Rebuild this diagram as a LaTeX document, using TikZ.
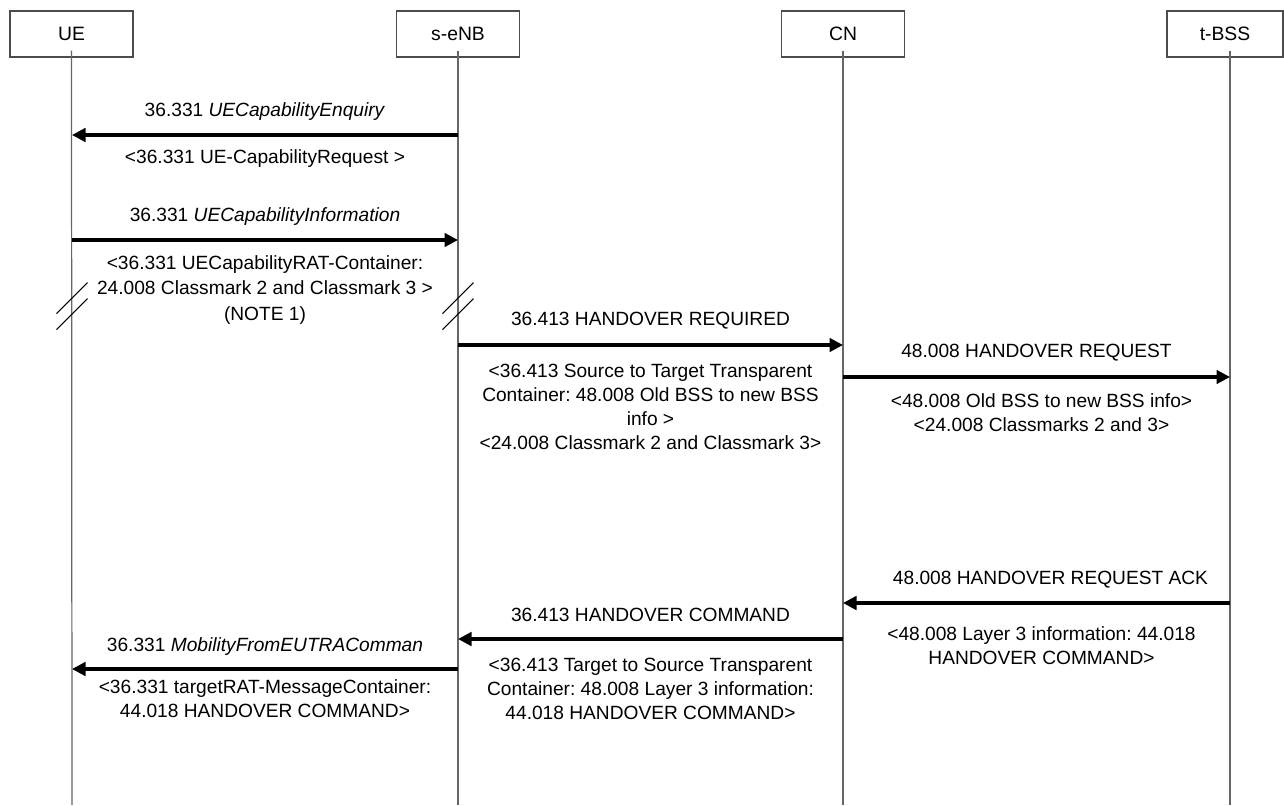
\documentclass[tikz,border=0pt]{standalone}
\usepackage{fontspec}
\setmainfont{Liberation Sans}
\frenchspacing
\usetikzlibrary{arrows.meta, positioning, calc}
\tikzset{
  entity/.style={rectangle, draw=black!70, fill=white, line width=0.6pt,
    minimum width=2.46cm, minimum height=0.92cm,
    font=\fontsize{11}{13}\selectfont},
  lifeline/.style={draw=black!60, line width=0.7pt, shorten <=-0.14cm},
  msg/.style={-{Triangle[length=0.27cm, width=0.27cm]}, line width=1.8pt},
  lbl/.style={align=center, inner sep=0pt,
    font=\fontsize{10.9}{13.6}\selectfont},
  brk/.style={line width=0.6pt},
}

\begin{document}
\begin{tikzpicture}
  \useasboundingbox (0,0) rectangle (25.68,-16.1);

  % Entities
  \node[entity] (ue)   at (1.43,-0.68)  {UE};
  \node[entity] (senb) at (9.16,-0.68)  {s-eNB};
  \node[entity] (cn)   at (16.86,-0.68) {CN};
  \node[entity, minimum width=2.32cm] (tbss) at (24.50,-0.68) {t-BSS};

  % Lifelines
  \coordinate (ue-end)   at (1.44,-16.1);
  \coordinate (senb-end) at (9.16,-16.1);
  \coordinate (cn-end)   at (16.86,-16.1);
  \coordinate (tbss-end) at (24.60,-16.1);
  \draw[lifeline] (ue.south) -- (ue-end);
  \draw[lifeline] (senb.south) -- (senb-end);
  \draw[lifeline] (cn.south) -- (cn-end);
  \draw[lifeline] (tbss.south -| tbss-end) -- (tbss-end);

  % Message end points
  \coordinate (enq-s)  at (senb-end |- 0,-2.70);
  \coordinate (enq-t)  at (ue-end |- 0,-2.70);
  \coordinate (info-s) at (ue-end |- 0,-4.80);
  \coordinate (info-t) at (senb-end |- 0,-4.80);
  \coordinate (hreq-s) at (senb-end |- 0,-6.90);
  \coordinate (hreq-t) at (cn-end |- 0,-6.90);
  \coordinate (hrq-s)  at (cn-end |- 0,-7.54);
  \coordinate (hrq-t)  at (tbss-end |- 0,-7.54);
  \coordinate (ack-s)  at (tbss-end |- 0,-12.06);
  \coordinate (ack-t)  at (cn-end |- 0,-12.06);
  \coordinate (hcmd-s) at (cn-end |- 0,-12.78);
  \coordinate (hcmd-t) at (senb-end |- 0,-12.78);
  \coordinate (mob-s)  at (senb-end |- 0,-13.38);
  \coordinate (mob-t)  at (ue-end |- 0,-13.38);

  % Messages
  \draw[msg] (enq-s) -- (enq-t)
    node[lbl, midway, yshift=0.46cm] (enq-top) {36.331 \textit{UECapabilityEnquiry}}
    node[lbl, midway, yshift=-0.48cm] (enq-bot) {<36.331 UE-CapabilityRequest >};
  \draw[msg] (info-s) -- (info-t)
    node[lbl, midway, yshift=0.46cm] (info-top) {36.331 \textit{UECapabilityInformation}}
    node[lbl, midway, yshift=-1.00cm] (info-bot)
      {<36.331 UECapabilityRAT-Container:\\[1pt]24.008 Classmark 2 and Classmark 3 >\\[1pt](NOTE 1)};
  \draw[msg] (hreq-s) -- (hreq-t)
    node[lbl, midway, yshift=0.48cm] (hreq-top) {36.413 HANDOVER REQUIRED}
    node[lbl, midway, yshift=-1.24cm] (hreq-bot)
      {<36.413 Source to Target Transparent\\Container: 48.008 Old BSS to new BSS\\info >\\<24.008 Classmark 2 and Classmark 3>};
  \draw[msg] (hrq-s) -- (hrq-t)
    node[lbl, midway, yshift=0.48cm] (hrq-top) {48.008 HANDOVER REQUEST}
    node[lbl, midway, yshift=-0.72cm, xshift=0.1cm] (hrq-bot)
      {<48.008 Old BSS to new BSS info>\\<24.008 Classmarks 2 and 3>};
  \draw[msg] (ack-s) -- (ack-t)
    node[lbl, midway, yshift=0.46cm, xshift=0.28cm] (ack-top) {48.008 HANDOVER REQUEST ACK}
    node[lbl, midway, yshift=-0.85cm, xshift=0.1cm] (ack-bot)
      {<48.008 Layer 3 information: 44.018\\HANDOVER COMMAND>};
  \draw[msg] (hcmd-s) -- (hcmd-t)
    node[lbl, midway, yshift=0.48cm] (hcmd-top) {36.413 HANDOVER COMMAND}
    node[lbl, midway, yshift=-1.00cm] (hcmd-bot)
      {<36.413 Target to Source Transparent\\Container: 48.008 Layer 3 information:\\44.018 HANDOVER COMMAND>};
  \draw[msg] (mob-s) -- (mob-t)
    node[lbl, midway, yshift=0.44cm] (mob-top) {36.331 \textit{MobilityFromEUTRAComman}}
    node[lbl, midway, yshift=-0.60cm] (mob-bot)
      {<36.331 targetRAT-MessageContainer:\\44.018 HANDOVER COMMAND>};

  % Break marks
  \coordinate (brk-ue1)   at (ue-end |- 0,-5.96);
  \coordinate (brk-ue2)   at (ue-end |- 0,-6.28);
  \coordinate (brk-senb1) at (senb-end |- 0,-5.96);
  \coordinate (brk-senb2) at (senb-end |- 0,-6.28);
  \draw[brk] ([shift={(-0.31,-0.31)}]brk-ue1) -- ([shift={(0.31,0.31)}]brk-ue1);
  \draw[brk] ([shift={(-0.31,-0.31)}]brk-ue2) -- ([shift={(0.31,0.31)}]brk-ue2);
  \draw[brk] ([shift={(-0.31,-0.31)}]brk-senb1) -- ([shift={(0.31,0.31)}]brk-senb1);
  \draw[brk] ([shift={(-0.31,-0.31)}]brk-senb2) -- ([shift={(0.31,0.31)}]brk-senb2);
\end{tikzpicture}
\end{document}
